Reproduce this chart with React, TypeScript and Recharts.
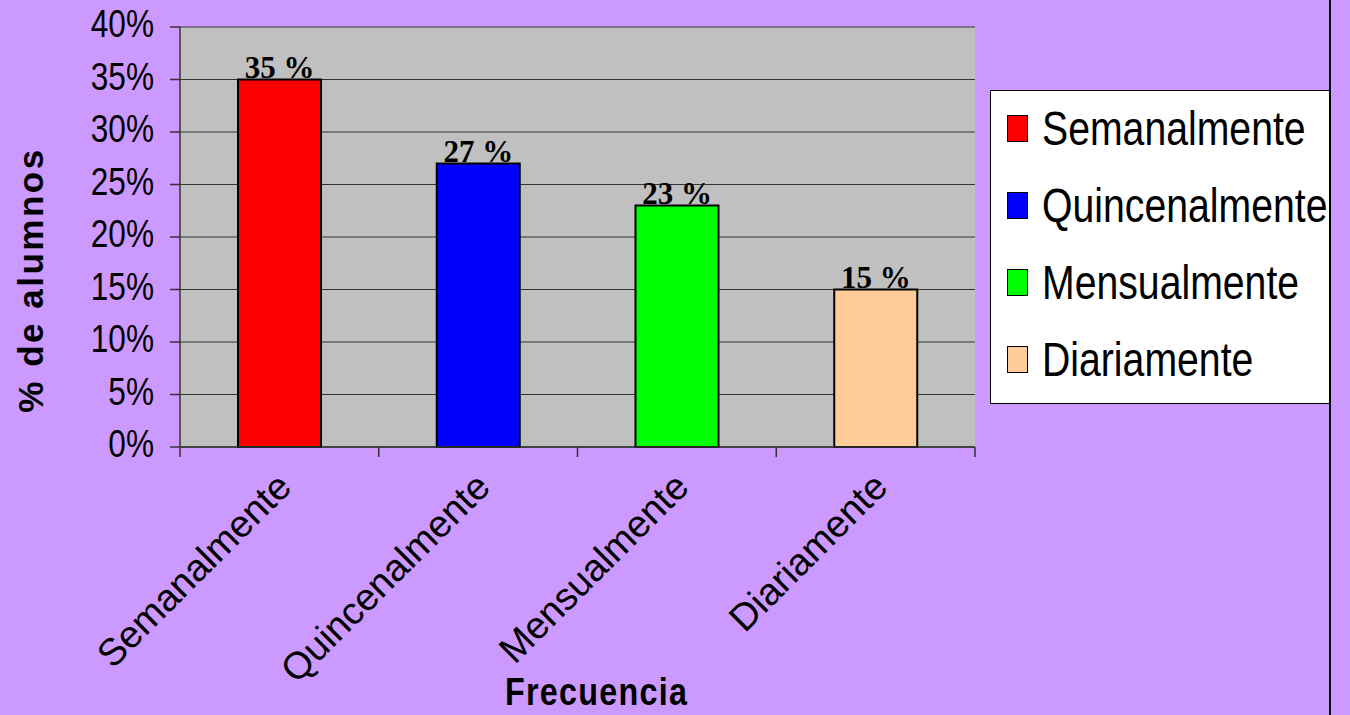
import { Bar, BarChart, CartesianGrid, Cell, LabelList, Legend, XAxis, YAxis } from 'recharts'

const categories = ['Semanalmente', 'Quincenalmente', 'Mensualmente', 'Diariamente']
const percentages = [35, 27, 23, 15]
const barColors = ['#FF0000', '#0000FF', '#00FF00', '#FFCC99']
const yTicks = [0, 5, 10, 15, 20, 25, 30, 35, 40]

const data = categories.map((name, i) => ({ name, value: percentages[i] }))

const W = 1350
const H = 715
const margin = { top: 27, right: 375, bottom: 0, left: 0 }
const yAxisWidth = 180
const plotWidth = W - margin.left - margin.right - yAxisWidth
const band = plotWidth / categories.length

const sans = '"Liberation Sans", Arial, sans-serif'
const serif = '"Liberation Serif", "Times New Roman", serif'

function XTick(props: any) {
  const { x, y, payload, index } = props
  const left = x - band / 2
  return (
    <g>
      <line x1={left} y1={y} x2={left} y2={y + 10} stroke="#333" strokeWidth={1.5} />
      {index === categories.length - 1 && (
        <line x1={x + band / 2} y1={y} x2={x + band / 2} y2={y + 10} stroke="#333" strokeWidth={1.5} />
      )}
      <text
        transform={`translate(${x + 14},${y + 42}) rotate(-45)`}
        textAnchor="end"
        fontFamily={sans}
        fontSize={38}
        fill="#000"
      >
        {payload.value}
      </text>
    </g>
  )
}

function YTick(props: any) {
  const { x, y, payload } = props
  return (
    <text
      transform={`translate(${x - 14},${y - 4}) scale(0.81,1)`}
      textAnchor="end"
      dy="0.36em"
      fontFamily={sans}
      fontSize={39}
      fill="#000"
    >
      {payload.value}%
    </text>
  )
}

function LegendBox() {
  return (
    <div
      style={{
        width: 339,
        height: 312,
        background: '#fff',
        border: '1px solid #000',
        borderRight: 'none',
        boxSizing: 'content-box',
        position: 'relative',
        overflow: 'hidden',
      }}
    >
      {categories.map((c, i) => (
        <div key={c} style={{ position: 'absolute', left: 16, top: 13 + i * 77, height: 48, display: 'flex', alignItems: 'center' }}>
          <div style={{ width: 19, height: 25, background: barColors[i], border: '1.5px solid #000' }} />
          <span
            style={{
              marginLeft: 14,
              fontFamily: sans,
              fontSize: 49,
              lineHeight: '48px',
              color: '#000',
              display: 'inline-block',
              transform: 'scaleX(0.8)',
              transformOrigin: 'left center',
              whiteSpace: 'nowrap',
            }}
          >
            {c}
          </span>
        </div>
      ))}
    </div>
  )
}

export default function App() {
  return (
    <div style={{ position: 'absolute', left: 0, top: 0, width: W, height: H, background: '#CC99FF' }}>
      <BarChart width={W} height={H} data={data} margin={margin}>
        <CartesianGrid vertical={false} fill="#C0C0C0" stroke="#333" strokeWidth={1.2} />
        <XAxis
          dataKey="name"
          height={H - margin.top - 420}
          tickLine={false}
          tickSize={0}
          tickMargin={0}
          interval={0}
          axisLine={{ stroke: '#333', strokeWidth: 1.5 }}
          tick={<XTick />}
          label={{
            content: (p: any) => {
              const vb = p.viewBox
              return (
                <text
                  transform={`translate(${vb.x + vb.width / 2 + 19},705) scale(0.85,1)`}
                  textAnchor="middle"
                  fontFamily={sans}
                  fontWeight="bold"
                  fontSize={38}
                  letterSpacing={1.5}
                  fill="#000"
                >
                  Frecuencia
                </text>
              )
            },
          }}
        />
        <XAxis xAxisId="top" orientation="top" dataKey="name" height={0} tick={false} tickLine={false} axisLine={{ stroke: '#808080', strokeWidth: 2 }} />
        <YAxis
          domain={[0, 40]}
          ticks={yTicks}
          width={yAxisWidth}
          tickSize={10}
          tickLine={{ stroke: '#333', strokeWidth: 1.5 }}
          axisLine={{ stroke: '#333', strokeWidth: 1.5 }}
          tick={<YTick />}
          interval={0}
          label={{
            content: (p: any) => {
              const vb = p.viewBox
              const cy = vb.y + vb.height / 2 + 43
              return (
                <text
                  transform={`translate(30,${cy}) rotate(-90)`}
                  textAnchor="middle"
                  dy="0.36em"
                  fontFamily={sans}
                  fontWeight="bold"
                  fontSize={35}
                  letterSpacing={2.5}
                  fill="#000"
                >
                  % de alumnos
                </text>
              )
            },
          }}
        />
        <YAxis yAxisId="right" orientation="right" domain={[0, 40]} width={0} tick={false} tickLine={false} axisLine={{ stroke: '#808080', strokeWidth: 3 }} />
        <Legend
          layout="vertical"
          align="center"
          verticalAlign="middle"
          wrapperStyle={{ left: 990, top: 90, width: 340, height: 314 }}
          content={() => <LegendBox />}
        />
        <Bar dataKey="value" barSize={83} stroke="#000" strokeWidth={2} isAnimationActive={false}>
          {data.map((d, i) => (
            <Cell key={d.name} fill={barColors[i]} />
          ))}
          <LabelList
            dataKey="value"
            position="top"
            offset={2}
            formatter={(v: any) => `${v} %`}
            style={{ fontFamily: serif, fontWeight: 'bold', fontSize: 31, fill: '#000' }}
          />
        </Bar>
      </BarChart>
      <div style={{ position: 'absolute', left: 1329, top: 0, width: 2, height: H, background: '#000' }} />
    </div>
  )
}
